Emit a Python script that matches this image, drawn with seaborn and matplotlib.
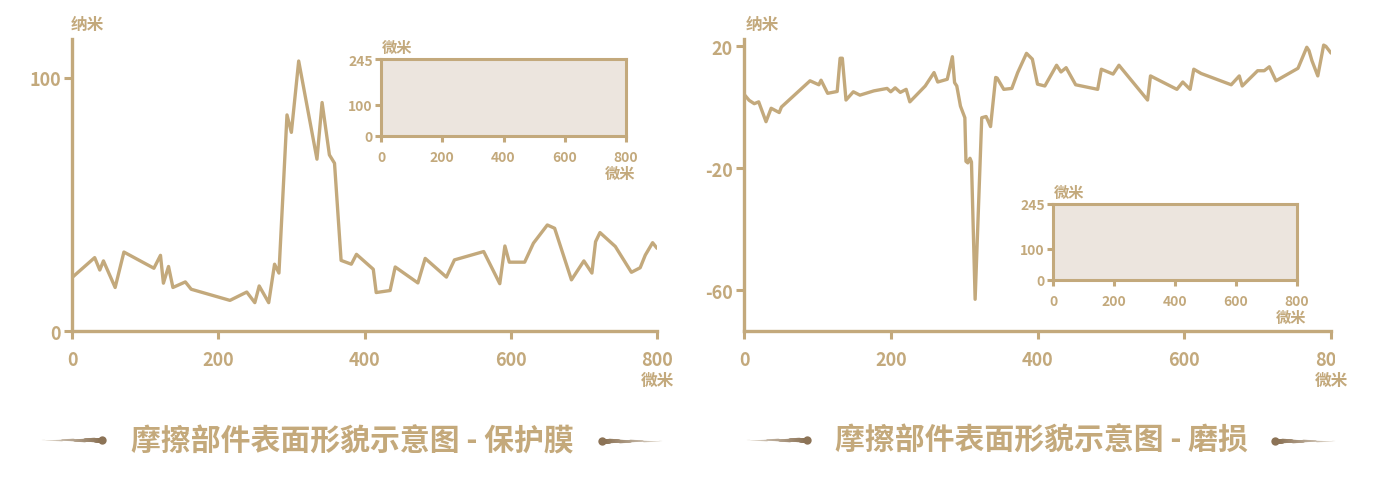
#%% Packages
import numpy as np
import pandas as pd
import matplotlib
matplotlib.use("Agg")
import matplotlib.pyplot as plt
import seaborn as sns
from matplotlib.collections import LineCollection
from matplotlib.colors import to_rgb
from matplotlib.transforms import Bbox, TransformedBbox

#%% Data
film_x = [0, 31, 38, 43, 59, 71, 112, 121, 125, 132, 138, 155, 163, 216, 239, 250,
          256, 269, 277, 283, 294, 300, 310, 335, 342, 352, 359, 368, 382, 389, 412,
          416, 435, 442, 473, 483, 512, 523, 563, 585, 592, 598, 619, 631, 650, 660,
          683, 700, 711, 716, 722, 743, 765, 777, 784, 794, 800]
film_y = [21.1, 29, 24.1, 27.7, 17.2, 31.2, 24.8, 29.9, 18.9, 25.5, 17.2, 19.4, 16.5,
          12.1, 15.4, 11.2, 17.8, 11.2, 26.4, 22.9, 85.4, 78.5, 106.7, 67.9, 90.3,
          69.6, 66.3, 27.9, 26.4, 30.3, 24.4, 15.2, 16, 25.3, 19, 28.7, 21.3, 28.1,
          31.4, 18.7, 33.6, 27.2, 27.2, 34.7, 41.9, 40.6, 20.2, 27.7, 22.9, 35.3,
          38.9, 33.4, 23.2, 25, 30, 34.9, 32.7]

wear_x = [0, 7, 14, 20, 30, 37, 48, 51, 90, 102, 105, 114, 127, 131, 134, 139, 149,
          158, 177, 195, 200, 206, 213, 221, 226, 247, 259, 264, 277, 284, 287, 290,
          295, 301, 302.5, 305, 308, 310, 315, 324, 330, 336, 343, 345, 354, 365, 373,
          385, 393, 400, 410, 426, 432, 439, 452, 482, 487, 503, 511, 550, 554, 590,
          598, 608, 613, 623, 664, 675, 679, 700, 709, 716, 725, 755, 767, 770, 774,
          782, 790, 793, 800]
wear_y = [4.2, 2.2, 1.1, 1.7, -4.8, -0.4, -1.8, 0.0, 8.6, 7.3, 8.8, 4.5, 5.1, 16, 16,
          2.3, 5, 3.9, 5.3, 6.1, 5, 6.3, 4.8, 5.8, 1.7, 6.9, 11.3, 8.2, 9.1, 16.5, 8.0,
          6.9, 0.3, -3.5, -17.8, -18.3, -16.8, -18, -63, -3.5, -3.1, -6.4, 9.7, 9.5,
          5.8, 6.1, 11.3, 17.6, 15.7, 7.5, 6.9, 13.7, 11.5, 12.9, 7.3, 5.8, 12.4, 10.8,
          13.7, 2.3, 10.2, 5.8, 8.2, 5.8, 12.4, 11, 7.3, 10.2, 6.9, 11.9, 11.9, 13.2,
          8.6, 12.7, 19.6, 18.5, 15.2, 10.2, 20.3, 19.9, 17.7]

x_ticks = [0, 200, 400, 600, 800]
inset_y_ticks = [0, 100, 245]
titles = ["摩擦部件表面形貌示意图 - 保护膜", "摩擦部件表面形貌示意图 - 磨损"]

#%% Style
TAN = "#c3a97c"
TITLE_COL = "#c4a97b"
INSET_FACE = "#ece5de"
DARK = "#8c7356"

sns.set_theme(style="white")
plt.rcParams["font.family"] = ["Noto Sans CJK SC", "DejaVu Sans"]
plt.rcParams["axes.unicode_minus"] = False

W, H = 1378, 481
fig = plt.figure(figsize=(W / 100, H / 100), dpi=100)


def fr(x0, y0, x1, y1):
    # pixel box -> figure fraction rect
    return [x0 / W, 1 - y1 / H, (x1 - x0) / W, (y1 - y0) / H]


def style_axes(ax, tick_size, tick_len, xpad, ypad, full_box=False):
    for side in ["top", "right", "left", "bottom"]:
        sp = ax.spines[side]
        if full_box or side in ("left", "bottom"):
            sp.set_visible(True)
            sp.set_color(TAN)
            sp.set_linewidth(2.4 if not full_box else 2.2)
        else:
            sp.set_visible(False)
    ax.tick_params(axis="both", colors=TAN, width=2.2, length=tick_len,
                   direction="out", labelsize=tick_size, labelcolor=TAN)
    ax.tick_params(axis="x", pad=xpad)
    ax.tick_params(axis="y", pad=ypad)
    ax.xaxis.set_ticks_position("bottom")
    ax.yaxis.set_ticks_position("left")
    for lb in ax.get_xticklabels() + ax.get_yticklabels():
        lb.set_fontweight("bold")
    ax.set_xlabel("")
    ax.set_ylabel("")
    ax.grid(False)


def add_inset(rect):
    ins = fig.add_axes(rect)
    ins.set_facecolor(INSET_FACE)
    ins.set_xlim(0, 800)
    ins.set_ylim(0, 245)
    ins.set_xticks(x_ticks)
    ins.set_yticks(inset_y_ticks)
    style_axes(ins, 10, 4, 6, 2, full_box=True)
    ins.text(0.065, 1.05, "微米", transform=ins.transAxes, ha="center", va="bottom",
             fontsize=11, color=TAN, fontweight="bold")
    ins.text(0.975, -0.38, "微米", transform=ins.transAxes, ha="center", va="top",
             fontsize=11, color=TAN, fontweight="bold")
    return ins


def unit_labels(ax, ylab_x):
    ax.text(ylab_x, 1.05, "纳米", transform=ax.transAxes, ha="center", va="center",
            fontsize=12, color=TAN, fontweight="bold")
    ax.text(1.0, -0.168, "微米", transform=ax.transAxes, ha="center", va="center",
            fontsize=12, color=TAN, fontweight="bold")


#%% Left panel
ax1 = fig.add_axes(fr(72, 40, 657, 332))
sns.lineplot(x=film_x, y=film_y, ax=ax1, color=TAN, linewidth=2.4,
             sort=False, estimator=None)
ax1.set_xlim(0, 800)
ax1.set_ylim(0, 115.4)
ax1.set_xticks(x_ticks)
ax1.set_yticks([0, 100])
style_axes(ax1, 13, 6, 8, 2)
unit_labels(ax1, 0.027)
add_inset(fr(381, 60, 626, 137))

#%% Right panel
ax2 = fig.add_axes(fr(744, 40, 1331, 332))
sns.lineplot(x=wear_x, y=wear_y, ax=ax2, color=TAN, linewidth=2.4,
             sort=False, estimator=None)
ax2.set_xlim(0, 800)
ax2.set_ylim(-73.4, 22.3)
ax2.set_xticks(x_ticks)
ax2.set_yticks([-60, -20, 20])
style_axes(ax2, 13, 6, 8, 2)
unit_labels(ax2, 0.031)
add_inset(fr(1053, 205, 1297, 281))

# the last tick label on the right panel is cut at the canvas edge
clip = TransformedBbox(Bbox.from_extents(0, 0, 1335 / W, 1), fig.transFigure)
for lb in ax2.get_xticklabels():
    lb.set_clip_box(clip)
    lb.set_clip_on(True)

#%% Titles with brush-stroke ornaments
over = fig.add_axes([0, 0, 1, 1], zorder=-1)
over.set_xlim(0, W)
over.set_ylim(H, 0)
over.axis("off")


def stroke(x_thin, x_dot, y):
    n = 80
    xs = np.linspace(x_thin, x_dot, n + 1)
    segs = [[(xs[i], y), (xs[i + 1], y)] for i in range(n)]
    t = np.linspace(0, 1, n)
    c0, c1 = np.array(to_rgb("#f1ece4")), np.array(to_rgb(DARK))
    cols = [tuple(c0 + (c1 - c0) * k ** 0.8) for k in t]
    widths = 0.3 + 3.4 * t ** 1.3
    over.add_collection(LineCollection(segs, colors=cols, linewidths=widths,
                                       capstyle="round"))
    over.scatter([x_dot], [y], s=36, color=DARK, zorder=3, linewidths=0)


for cx, title, half in [(352, titles[0], 250), (1041, titles[1], 234)]:
    over.text(cx, 441, title, ha="center", va="center", fontsize=21.5,
              color=TITLE_COL, fontweight="bold")
    stroke(cx - half - 60, cx - half, 441)
    stroke(cx + half + 60, cx + half, 442)

fig.savefig("out.png", dpi=100)
